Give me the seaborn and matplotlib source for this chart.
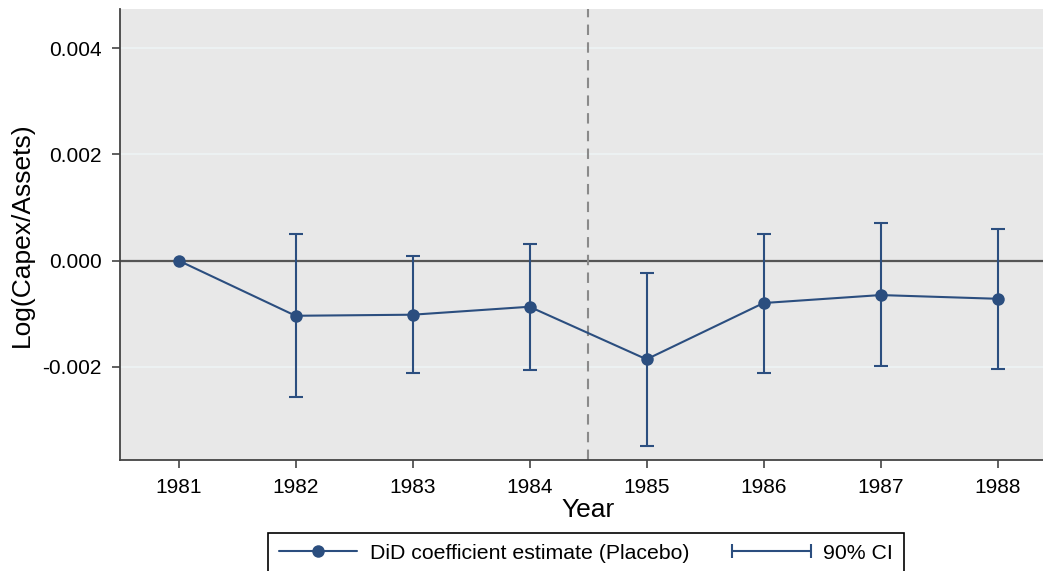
import matplotlib
matplotlib.use("Agg")
import matplotlib.pyplot as plt
from matplotlib.lines import Line2D
from matplotlib.legend_handler import HandlerLine2D
from matplotlib.ticker import FormatStrFormatter
import numpy as np
import pandas as pd
import seaborn as sns

# Event-study estimates (placebo), by year
years = [1981, 1982, 1983, 1984, 1985, 1986, 1987, 1988]
coef = [0.0, -0.00104, -0.00102, -0.00087, -0.00186, -0.00080, -0.00065, -0.00072]
ci_low = [0.0, -0.00257, -0.00212, -0.00206, -0.00350, -0.00212, -0.00198, -0.00204]
ci_high = [0.0, 0.00050, 0.00009, 0.00032, -0.00023, 0.00050, 0.00070, 0.00060]
y_ticks = [-0.002, 0.000, 0.002, 0.004]
event_line = 1984.5

navy = "#2b4e7f"
axis_gray = "#444444"

sns.set_theme(style="white")
plt.rcParams["font.family"] = ["Liberation Sans", "DejaVu Sans"]
plt.rcParams["text.color"] = "black"
plt.rcParams["axes.labelcolor"] = "black"

df = pd.DataFrame({"year": years, "coef": coef, "lo": ci_low, "hi": ci_high})

fig = plt.figure(figsize=(10.43, 5.71), dpi=100)
ax = fig.add_axes([0.1151, 0.1944, 0.8974, 0.789])
ax.set_facecolor("#e8e8e8")

# Horizontal gridlines and reference lines
for yt in y_ticks:
    if yt != 0:
        ax.axhline(yt, color="#eef3f5", lw=1.2, zorder=0)
ax.axhline(0, color="#555555", lw=1.6, zorder=1)
ax.axvline(event_line, color="#8a8a8a", lw=1.5, ls=(0, (5, 3.5)), zorder=1)

# Confidence intervals (skip the base year, whose interval is degenerate)
ci_df = df[df["hi"] != df["lo"]]
ax.errorbar(ci_df["year"], ci_df["coef"],
            yerr=[ci_df["coef"] - ci_df["lo"], ci_df["hi"] - ci_df["coef"]],
            fmt="none", ecolor=navy, elinewidth=1.5, capsize=5, capthick=1.5, zorder=2)

# Point estimates connected by a line
sns.lineplot(data=df, x="year", y="coef", ax=ax, color=navy, lw=1.5,
             marker="o", markersize=9, markeredgewidth=0, zorder=3,
             legend=False)

ax.set_xlim(1980.5, 1988.5)
ax.set_ylim(-0.003757, 0.00473)
ax.set_xticks(years)
ax.set_xticklabels([str(y) for y in years])
ax.set_yticks(y_ticks)
ax.yaxis.set_major_formatter(FormatStrFormatter("%.3f"))
ax.tick_params(axis="both", labelsize=15, length=6, width=1.2, color=axis_gray,
               labelcolor="black", direction="out", left=True, bottom=True, pad=7)

for side in ["top", "right"]:
    ax.spines[side].set_visible(False)
for side in ["left", "bottom"]:
    ax.spines[side].set_color(axis_gray)
    ax.spines[side].set_linewidth(1.3)

ax.set_xlabel("Year", fontsize=19, labelpad=1, color="black")
ax.set_ylabel("Log(Capex/Assets)", fontsize=19, labelpad=6, color="black")

# Legend below the plot
h_est = Line2D([], [], color=navy, lw=1.5, marker="o", markersize=9, markeredgewidth=0)
h_ci = Line2D([], [], color=navy, lw=1.5, marker="|", markersize=10, markeredgewidth=1.5)
leg = fig.legend([h_est, h_ci], ["DiD coefficient estimate (Placebo)", "90% CI"],
                 loc="upper left", bbox_to_anchor=(0.257, 0.0665), ncol=2,
                 fontsize=15.3, frameon=True, fancybox=False, edgecolor="black",
                 framealpha=1.0, handlelength=3.7, handletextpad=0.6, columnspacing=2.0,
                 borderpad=0.5, borderaxespad=0, labelcolor="black",
                 handler_map={h_est: HandlerLine2D(numpoints=1),
                              h_ci: HandlerLine2D(numpoints=2, marker_pad=0)})
leg.get_frame().set_linewidth(1.2)

fig.savefig("out.png", dpi=100, facecolor="white")
